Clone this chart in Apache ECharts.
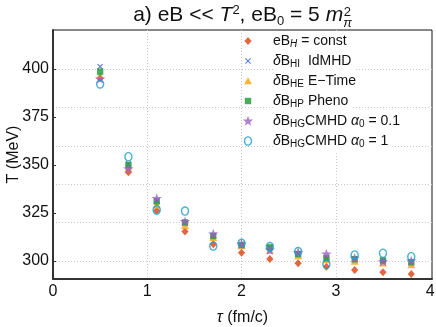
<!DOCTYPE html>
<html><head><meta charset="utf-8">
<script src="https://cdn.jsdelivr.net/npm/echarts@6/dist/echarts.min.js"></script>
<style>html,body{margin:0;padding:0;background:#fff}#c{width:436px;height:327px}</style>
</head><body><div id="c"></div>
<script>
// ---------- data ----------
const tau = [0.5, 0.8, 1.1, 1.4, 1.7, 2.0, 2.3, 2.6, 2.9, 3.2, 3.5, 3.8];
const eBconst = [395.2, 346.2, 326.2, 315.3, 308.7, 304.3, 301.0, 298.8, 297.0, 295.3, 294.1, 293.2];
const idMHD  = [401.2, 350.5, 331.2, 320.2, 313.2, 308.5, 307.0, 303.8, 301.6, 301.0, 300.3, 299.5];
const eTime  = [396.5, 348.5, 329.0, 318.4, 312.1, 307.8, 305.4, 302.6, 300.5, 299.7, 298.8, 297.9];
const pheno  = [398.6, 350.0, 331.0, 320.0, 313.0, 308.3, 307.1, 303.6, 301.4, 300.9, 300.2, 299.3];
const cmhd01 = [394.8, 348.0, 332.6, 320.5, 314.1, 308.7, 305.7, 304.4, 303.6, 301.4, 299.7, 300.0];
const cmhd1  = [392.2, 354.3, 326.6, 326.0, 307.8, 309.2, 307.5, 304.9, 298.4, 303.1, 304.0, 302.2];
const yLabelTicks = [300, 325, 350, 375, 400];
const yGridTicks = [300, 320, 340, 360, 380, 400];
const xLabelTicks = [0, 1, 2, 3, 4];
const xGridTicks = [1, 2, 3];
const seriesNames = ['const', 'idmhd', 'etime', 'pheno', 'cmhd01', 'cmhd1'];
const legendLabels = [
  'eB{si|H} = const',
  '{i|δ}B{s|HI}  IdMHD',
  '{i|δ}B{s|HE} E\u2212Time',
  '{i|δ}B{s|HP} Pheno',
  '{i|δ}B{s|HG}CMHD {i|α}{s|0} = 0.1',
  '{i|δ}B{s|HG}CMHD {i|α}{s|0} = 1'
];
const seriesData = [eBconst, idMHD, eTime, pheno, cmhd01, cmhd1];

// ---------- styles ----------
const FONT = '"Liberation Sans", Arial, sans-serif';
const colors = ['#d8410f', '#3b5fd6', '#f7a20a', '#1b9a32', '#9b5fc2', '#1e9fc8'];
const P = 'path://M0,0M12,12';
const symbols = [
  P + 'M6,2L9.6,6L6,10L2.4,6Z',
  P + 'M3,3.8L3.8,3L6,5.2L8.2,3L9,3.8L6.8,6L9,8.2L8.2,9L6,6.8L3.8,9L3,8.2L5.2,6Z',
  P + 'M6,2.3L10,9.3L2,9.3Z',
  P + 'M2.8,2.8L9.2,2.8L9.2,9.2L2.8,9.2Z',
  P + 'M6,0.8L7.29,4.52L11.23,4.6L8.09,6.98L9.23,10.75L6,8.5L2.77,10.75L3.91,6.98L0.77,4.6L4.71,4.52Z',
  P + 'M6,1.2C8.32,1.2 10.2,3.35 10.2,6C10.2,8.65 8.32,10.8 6,10.8C3.68,10.8 1.8,8.65 1.8,6C1.8,3.35 3.68,1.2 6,1.2Z' +
      'M6,2.6C4.45,2.6 3.2,4.12 3.2,6C3.2,7.88 4.45,9.4 6,9.4C7.55,9.4 8.8,7.88 8.8,6C8.8,4.12 7.55,2.6 6,2.6Z'
];

// ---------- title (real text, laid out by measurement) ----------
const ctx = document.createElement('canvas').getContext('2d');
function mw(t, size, italic) { ctx.font = (italic ? 'italic ' : '') + size + 'px ' + FONT; return ctx.measureText(t).width; }
const big = 21, small = 13;
const segs = [
  {t: 'a) eB << ', sz: big, it: false, y: 15.5},
  {t: 'T', sz: big, it: true, y: 15.5},
  {t: '2', sz: small, it: false, y: 10.5},
  {t: ', eB', sz: big, it: false, y: 15.5},
  {t: '0', sz: small, it: false, y: 21.5},
  {t: ' = 5 ', sz: big, it: false, y: 15.5},
  {t: 'm', sz: big, it: true, y: 15.5},
  {t: 'π', sz: small, it: true, y: 23.5, sup: '2', supY: 12.5}
];
let totalW = 0; segs.forEach(s => { s.w = mw(s.t, s.sz, s.it); totalW += s.w; });
let cx = 242.5 - totalW / 2;
const titleEls = [];
segs.forEach(s => {
  titleEls.push({type: 'text', x: cx, y: s.y, style: {text: s.t, fontSize: s.sz, fontFamily: FONT, fontStyle: s.it ? 'italic' : 'normal', fill: '#111', align: 'left', verticalAlign: 'middle'}});
  if (s.sup) titleEls.push({type: 'text', x: cx + 0.5, y: s.supY, style: {text: s.sup, fontSize: small, fontFamily: FONT, fill: '#111', align: 'left', verticalAlign: 'middle'}});
  cx += s.w;
});

const chart = echarts.init(document.getElementById('c'), null, {renderer: 'canvas'});
const series = seriesNames.map((n, i) => ({
  name: n, type: 'scatter', symbol: symbols[i], symbolSize: 12,
  itemStyle: {color: colors[i]},
  data: tau.map((t, k) => [t, seriesData[i][k]]),
  z: 3 + i
}));

chart.setOption({
  animation: false,
  backgroundColor: '#fff',
  graphic: titleEls,
  grid: {left: 53, right: 4, top: 30, bottom: 48, show: true, borderColor: '#111', borderWidth: 1, containLabel: false, outerBoundsMode: 'none'},
  legend: {
    orient: 'vertical', left: 242, top: 31, padding: 0, itemGap: 0,
    itemWidth: 40, itemHeight: 12, z: 10,
    data: seriesNames,
    formatter: name => legendLabels[seriesNames.indexOf(name)],
    textStyle: {
      fontFamily: FONT, fontSize: 14, color: '#111', lineHeight: 20,
      backgroundColor: '#ffffff', padding: [0, 4, 0, 0],
      rich: {
        i: {fontFamily: FONT, fontSize: 14, fontStyle: 'italic', color: '#111', lineHeight: 20},
        s: {fontFamily: FONT, fontSize: 10, color: '#111', padding: [6, 0, 0, 0], lineHeight: 12},
        si: {fontFamily: FONT, fontSize: 10, fontStyle: 'italic', color: '#111', padding: [6, 0, 0, 0], lineHeight: 12}
      }
    }
  },
  xAxis: {
    type: 'value', min: 0, max: 4.02,
    name: '{i|τ} (fm/c)', nameLocation: 'middle', nameGap: 31, nameMoveOverlap: false,
    nameTextStyle: {fontFamily: FONT, fontSize: 16, color: '#111', rich: {i: {fontFamily: FONT, fontSize: 16, fontStyle: 'italic', color: '#111'}}},
    axisLine: {show: true, lineStyle: {color: '#333', width: 2}},
    axisTick: {show: false, customValues: xGridTicks},
    axisLabel: {customValues: xLabelTicks, fontFamily: FONT, fontSize: 16, color: '#111', margin: 5},
    splitLine: {show: true, lineStyle: {color: '#c8c8c8', type: [1, 2], width: 1}}
  },
  yAxis: [{
    type: 'value', min: 290.6, max: 420.3,
    name: 'T (MeV)', nameLocation: 'middle', nameGap: 31, nameMoveOverlap: false,
    nameTextStyle: {fontFamily: FONT, fontSize: 16, color: '#111'},
    axisLine: {show: true, lineStyle: {color: '#333', width: 2}},
    axisTick: {show: false, customValues: yGridTicks},
    axisLabel: {customValues: yLabelTicks, fontFamily: FONT, fontSize: 16, color: '#111', margin: 4},
    splitLine: {show: true, lineStyle: {color: '#c8c8c8', type: [1, 2], width: 1}}
  }, {
    type: 'value', min: 290.6, max: 420.3, position: 'left',
    axisLine: {show: false}, axisLabel: {show: false}, splitLine: {show: false},
    axisTick: {show: true, inside: true, length: 3, customValues: yLabelTicks, lineStyle: {color: '#333'}}
  }],
  series: series
});
</script></body></html>
